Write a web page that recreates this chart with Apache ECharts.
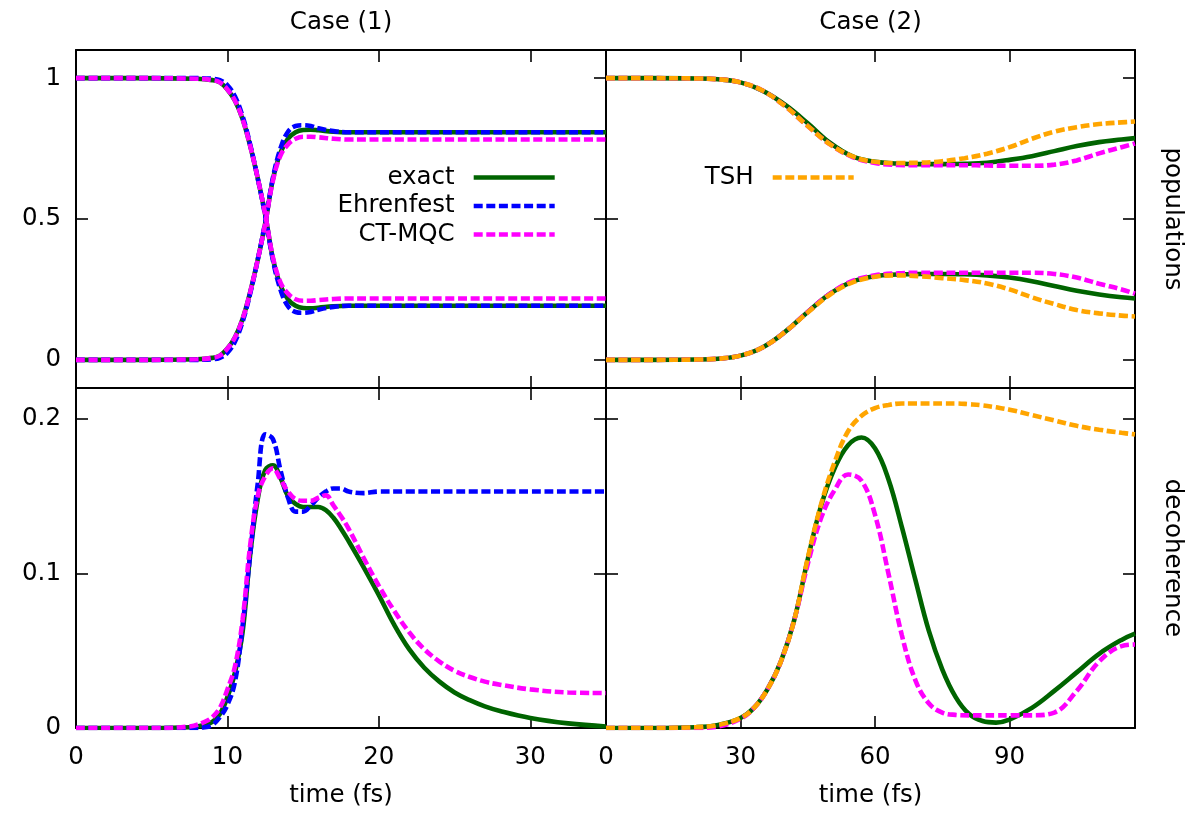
<!DOCTYPE html>
<html><head><meta charset="utf-8">
<script src="https://cdn.jsdelivr.net/npm/echarts@6/dist/echarts.min.js"></script>
<style>html,body{margin:0;padding:0;background:#fff}#c{width:1199px;height:815px}</style>
</head><body><div id="c"></div>
<script>
// ---------------- data ----------------
const case1Ticks = [0, 10, 20, 30];
const case2Ticks = [0, 30, 60, 90];
const popTicks = [0, 0.5, 1];
const decTicks = [0, 0.1, 0.2];

// Case (1) populations
const c1PopTime        = [0, 4, 8, 9, 9.5, 10, 10.5, 11, 11.5, 12, 12.5, 13, 13.5, 14, 14.5, 15, 15.5, 16, 17, 18, 20, 25, 30, 35];
const c1ExactUpper     = [1, 1, 0.998, 0.993, 0.985, 0.96, 0.92, 0.855, 0.76, 0.645, 0.515, 0.36, 0.265, 0.215, 0.192, 0.184, 0.183, 0.185, 0.19, 0.192, 0.192, 0.192, 0.192, 0.192];
const c1ExactLower     = [0, 0, 0.002, 0.007, 0.015, 0.04, 0.08, 0.145, 0.24, 0.355, 0.485, 0.64, 0.735, 0.785, 0.808, 0.816, 0.817, 0.815, 0.81, 0.808, 0.808, 0.808, 0.808, 0.808];
const c1EhrUpper       = [1, 1, 1, 0.998, 0.993, 0.975, 0.935, 0.865, 0.765, 0.645, 0.51, 0.355, 0.25, 0.19, 0.17, 0.167, 0.17, 0.178, 0.188, 0.192, 0.192, 0.192, 0.192, 0.192];
const c1EhrLower       = [0, 0, 0, 0.002, 0.007, 0.025, 0.065, 0.135, 0.235, 0.355, 0.49, 0.645, 0.75, 0.81, 0.83, 0.833, 0.83, 0.822, 0.812, 0.808, 0.808, 0.808, 0.808, 0.808];
const c1CtUpper        = [1, 1, 0.998, 0.993, 0.985, 0.96, 0.92, 0.855, 0.76, 0.645, 0.515, 0.365, 0.275, 0.235, 0.215, 0.21, 0.21, 0.212, 0.216, 0.218, 0.218, 0.218, 0.218, 0.218];
const c1CtLower        = [0, 0, 0.002, 0.007, 0.015, 0.04, 0.08, 0.145, 0.24, 0.355, 0.485, 0.635, 0.725, 0.765, 0.785, 0.792, 0.792, 0.79, 0.785, 0.782, 0.782, 0.782, 0.782, 0.782];

// Case (1) decoherence
const c1DecTime  = [0, 5, 7.5, 8.5, 9, 9.5, 10, 10.5, 11, 11.5, 12, 12.5, 13, 13.5, 14, 14.5, 15, 15.5, 16, 16.5, 17, 17.5, 18, 19, 20, 21, 22, 23, 24, 25, 26, 27, 28, 30, 32.5, 35];
const c1DecExact = [0, 0, 0.0005, 0.002, 0.004, 0.009, 0.02, 0.036, 0.062, 0.112, 0.148, 0.167, 0.17, 0.162, 0.15, 0.145, 0.143, 0.143, 0.143, 0.141, 0.136, 0.129, 0.121, 0.104, 0.086, 0.067, 0.051, 0.039, 0.03, 0.023, 0.018, 0.014, 0.011, 0.0065, 0.003, 0.001];
const c1DecEhr   = [0, 0, 0, 0.0005, 0.002, 0.007, 0.015, 0.03, 0.066, 0.112, 0.158, 0.19, 0.187, 0.167, 0.149, 0.14, 0.14, 0.144, 0.149, 0.153, 0.155, 0.155, 0.153, 0.152, 0.153, 0.153, 0.153, 0.153, 0.153, 0.153, 0.153, 0.153, 0.153, 0.153, 0.153, 0.153];
const c1DecCt    = [0, 0, 0.001, 0.004, 0.007, 0.013, 0.025, 0.04, 0.07, 0.118, 0.15, 0.163, 0.168, 0.161, 0.153, 0.148, 0.147, 0.147, 0.149, 0.1505, 0.144, 0.137, 0.129, 0.11, 0.092, 0.076, 0.062, 0.051, 0.043, 0.037, 0.033, 0.03, 0.028, 0.025, 0.023, 0.0226];

// Case (2) populations
const c2PopTime    = [0, 10, 20, 25, 30, 35, 40, 45, 50, 55, 60, 65, 70, 75, 80, 85, 90, 95, 100, 105, 110, 115, 118];
const c2ExactUpper = [1, 1, 0.999, 0.996, 0.985, 0.955, 0.905, 0.84, 0.77, 0.722, 0.703, 0.697, 0.695, 0.695, 0.696, 0.7, 0.71, 0.723, 0.741, 0.759, 0.773, 0.782, 0.787];
const c2ExactLower = [0, 0, 0.001, 0.004, 0.015, 0.045, 0.1, 0.17, 0.235, 0.278, 0.297, 0.303, 0.305, 0.305, 0.304, 0.3, 0.292, 0.279, 0.262, 0.245, 0.232, 0.222, 0.218];
const c2CtUpper    = [1, 1, 0.999, 0.996, 0.985, 0.955, 0.9, 0.83, 0.765, 0.72, 0.699, 0.692, 0.691, 0.691, 0.691, 0.69, 0.689, 0.689, 0.693, 0.708, 0.733, 0.755, 0.768];
const c2CtLower    = [0, 0, 0.001, 0.004, 0.015, 0.045, 0.1, 0.17, 0.235, 0.28, 0.3, 0.307, 0.309, 0.309, 0.309, 0.309, 0.309, 0.309, 0.305, 0.292, 0.27, 0.25, 0.235];
const c2TshUpper   = [1, 1, 0.999, 0.996, 0.985, 0.955, 0.9, 0.83, 0.765, 0.722, 0.703, 0.699, 0.7, 0.705, 0.716, 0.732, 0.755, 0.785, 0.81, 0.826, 0.837, 0.843, 0.846];
const c2TshLower   = [0, 0, 0.001, 0.004, 0.015, 0.045, 0.1, 0.168, 0.232, 0.275, 0.295, 0.3, 0.297, 0.29, 0.283, 0.271, 0.25, 0.222, 0.198, 0.177, 0.165, 0.157, 0.154];

// Case (2) decoherence
const c2DecTime  = [0, 10, 20, 25, 30, 33, 36, 39, 42, 45, 48, 51, 54, 57, 60, 63, 66, 69, 72, 75, 78, 81, 84, 87, 90, 95, 100, 105, 110, 115, 118];
const c2DecExact = [0, 0, 0.0005, 0.002, 0.0065, 0.013, 0.025, 0.043, 0.07, 0.109, 0.144, 0.168, 0.183, 0.188, 0.181, 0.161, 0.13, 0.096, 0.063, 0.038, 0.02, 0.009, 0.0045, 0.0035, 0.0054, 0.013, 0.024, 0.036, 0.048, 0.057, 0.061];
const c2DecCt    = [0, 0, 0, 0.001, 0.006, 0.013, 0.025, 0.043, 0.07, 0.106, 0.136, 0.154, 0.164, 0.16, 0.138, 0.1, 0.06, 0.031, 0.016, 0.01, 0.0085, 0.0082, 0.0082, 0.0082, 0.0082, 0.0082, 0.01, 0.024, 0.043, 0.053, 0.054];
const c2DecTsh   = [0, 0, 0.0005, 0.002, 0.0065, 0.013, 0.025, 0.043, 0.07, 0.11, 0.145, 0.172, 0.192, 0.202, 0.207, 0.209, 0.21, 0.21, 0.21, 0.21, 0.21, 0.2095, 0.2088, 0.2075, 0.206, 0.2025, 0.199, 0.1955, 0.193, 0.191, 0.19];

// ---------------- styling ----------------
const FONT = "'DejaVu Sans', 'Liberation Sans', Arial, sans-serif";
const FS = 24.5;
const COLORS = { exact: '#006400', Ehrenfest: '#0000ff', 'CT-MQC': '#ff00ff', TSH: '#ffa500' };
const DASH = [9, 3.6];
const LW = 4.6;

function pair(t, v) { return t.map((x, i) => [x, v[i]]); }

function xAx(grid, pos, max, ticks, showLabel, name) {
  return {
    type: 'value', gridIndex: grid, position: pos, min: 0, max: max,
    splitLine: { show: false },
    axisLine: { show: true, onZero: false, lineStyle: { color: '#000', width: 2 } },
    axisTick: { show: true, inside: true, length: 12, customValues: ticks, lineStyle: { color: '#000', width: 1.6 } },
    axisLabel: { show: showLabel, customValues: ticks, color: '#000', fontFamily: FONT, fontSize: FS, margin: 17 },
    name: name || '', nameLocation: 'middle',
    nameGap: pos === 'top' ? 15 : 55,
    nameTextStyle: { color: '#000', fontFamily: FONT, fontSize: FS }
  };
}
function yAx(grid, pos, min, max, ticks, showLabel, name) {
  return {
    type: 'value', gridIndex: grid, position: pos, min: min, max: max,
    splitLine: { show: false },
    axisLine: { show: true, onZero: false, lineStyle: { color: '#000', width: 2 } },
    axisTick: { show: true, inside: true, length: 12, customValues: ticks, lineStyle: { color: '#000', width: 1.6 } },
    axisLabel: { show: showLabel, customValues: ticks, color: '#000', fontFamily: FONT, fontSize: FS, margin: 15 },
    name: name || '', nameLocation: 'middle', nameRotate: -90, nameGap: 25,
    nameTextStyle: { color: '#000', fontFamily: FONT, fontSize: FS }
  };
}

function ser(name, t, v, axisIdx) {
  return {
    type: 'line', name: name, xAxisIndex: axisIdx, yAxisIndex: axisIdx,
    data: pair(t, v), symbol: 'none', showSymbol: false,
    smooth: 0.4, animation: false,
    lineStyle: { color: COLORS[name], width: LW, type: name === 'exact' ? 'solid' : DASH, cap: 'butt' },
    itemStyle: { color: COLORS[name] }
  };
}

const legendCommon = {
  orient: 'vertical', align: 'right', padding: 0,
  itemWidth: 81, itemHeight: 14, itemGap: 3.5,
  selectedMode: false,
  itemStyle: { opacity: 0 },
  lineStyle: { width: LW },
  textStyle: { color: '#000', fontFamily: FONT, fontSize: FS, lineHeight: 25, padding: [0, 14, 0, 0] }
};

const option = {
  backgroundColor: '#fff',
  animation: false,
  textStyle: { fontFamily: FONT },
  grid: [
    { left: 76, top: 50, width: 530, height: 338 },
    { left: 606, top: 50, width: 529, height: 338 },
    { left: 76, top: 388, width: 530, height: 340 },
    { left: 606, top: 388, width: 529, height: 340 }
  ],
  xAxis: [
    xAx(0, 'bottom', 35, case1Ticks, false),
    xAx(0, 'top', 35, case1Ticks, false, 'Case (1)'),
    xAx(1, 'bottom', 118, case2Ticks, false),
    xAx(1, 'top', 118, case2Ticks, false, 'Case (2)'),
    xAx(2, 'bottom', 35, case1Ticks, true, 'time (fs)'),
    xAx(2, 'top', 35, case1Ticks, false),
    xAx(3, 'bottom', 118, case2Ticks, true, 'time (fs)'),
    xAx(3, 'top', 118, case2Ticks, false)
  ],
  yAxis: [
    yAx(0, 'left', -0.1, 1.1, popTicks, true),
    yAx(0, 'right', -0.1, 1.1, popTicks, false),
    yAx(1, 'left', -0.1, 1.1, popTicks, false),
    yAx(1, 'right', -0.1, 1.1, popTicks, false, 'populations'),
    yAx(2, 'left', 0, 0.22, decTicks, true),
    yAx(2, 'right', 0, 0.22, decTicks, false),
    yAx(3, 'left', 0, 0.22, decTicks, false),
    yAx(3, 'right', 0, 0.22, decTicks, false, 'decoherence')
  ],
  legend: [
    Object.assign({}, legendCommon, { data: ['exact', 'Ehrenfest', 'CT-MQC'], right: 642, top: 165 }),
    Object.assign({}, legendCommon, { data: ['TSH'], right: 343, top: 165 })
  ],
  series: [
    ser('exact', c1PopTime, c1ExactUpper, 0),
    ser('exact', c1PopTime, c1ExactLower, 0),
    ser('Ehrenfest', c1PopTime, c1EhrUpper, 0),
    ser('Ehrenfest', c1PopTime, c1EhrLower, 0),
    ser('CT-MQC', c1PopTime, c1CtUpper, 0),
    ser('CT-MQC', c1PopTime, c1CtLower, 0),

    ser('exact', c2PopTime, c2ExactUpper, 2),
    ser('exact', c2PopTime, c2ExactLower, 2),
    ser('CT-MQC', c2PopTime, c2CtUpper, 2),
    ser('CT-MQC', c2PopTime, c2CtLower, 2),
    ser('TSH', c2PopTime, c2TshUpper, 2),
    ser('TSH', c2PopTime, c2TshLower, 2),

    ser('exact', c1DecTime, c1DecExact, 4),
    ser('Ehrenfest', c1DecTime, c1DecEhr, 4),
    ser('CT-MQC', c1DecTime, c1DecCt, 4),

    ser('exact', c2DecTime, c2DecExact, 6),
    ser('CT-MQC', c2DecTime, c2DecCt, 6),
    ser('TSH', c2DecTime, c2DecTsh, 6)
  ]
};

const chart = echarts.init(document.getElementById('c'), null, { renderer: 'canvas' });
chart.setOption(option);
</script></body></html>
